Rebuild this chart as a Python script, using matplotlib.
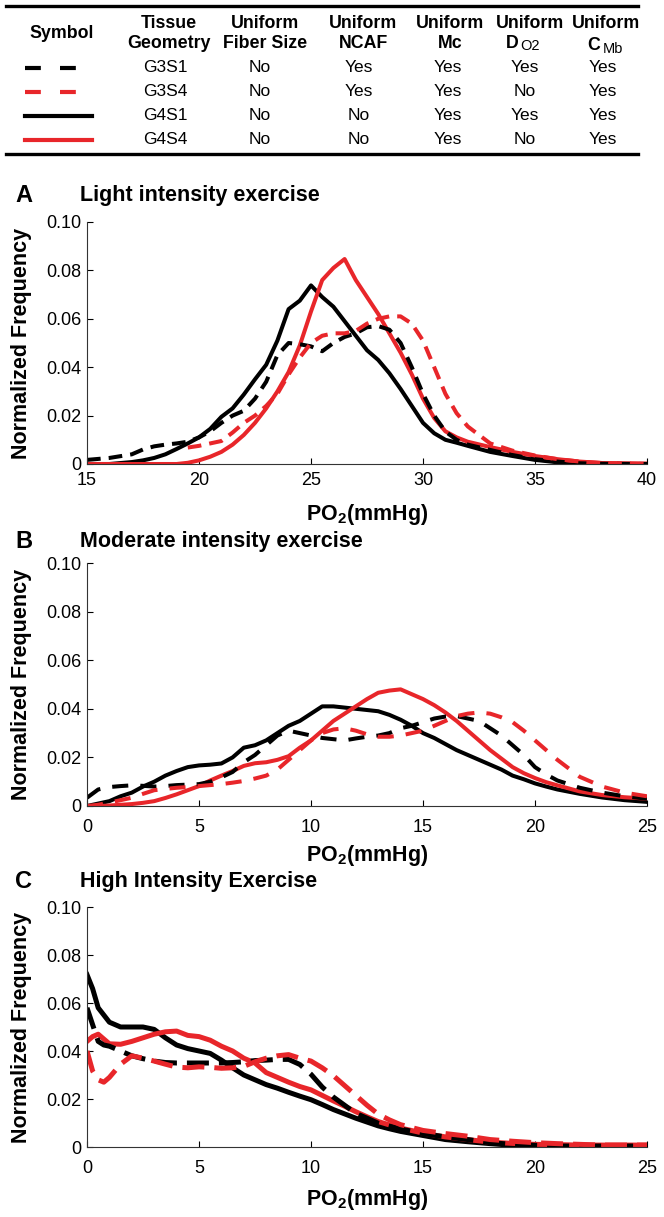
import numpy as np
import matplotlib
matplotlib.use('Agg')
import matplotlib.pyplot as plt
from matplotlib.lines import Line2D

plt.rcParams['font.family'] = ['Liberation Sans', 'DejaVu Sans']
plt.rcParams['mathtext.fontset'] = 'custom'
plt.rcParams['mathtext.rm'] = 'Liberation Sans'
plt.rcParams['mathtext.bf'] = 'Liberation Sans:bold'

RED = '#e8262a'
nan = np.nan

# ---------------- table data ----------------
geometry = ['G3S1', 'G3S4', 'G4S1', 'G4S4']
fiber = ['No', 'No', 'No', 'No']
ncaf = ['Yes', 'Yes', 'No', 'No']
mc = ['Yes', 'Yes', 'Yes', 'Yes']
do2 = ['Yes', 'No', 'Yes', 'No']
cmb = ['Yes', 'Yes', 'Yes', 'Yes']

# ---------------- panel A: light intensity ----------------
xA = [15, 16, 17, 17.5, 18, 18.5, 19, 19.5, 20, 20.5, 21, 21.5, 22, 22.5, 23, 23.5,
      24, 24.5, 25, 25.5, 26, 26.5, 27, 27.5, 28, 28.5, 29, 29.5, 30, 30.5, 31, 31.5,
      32, 33, 34, 35, 36, 37, 38, 40]
A_g3s1 = [0.0017, 0.0025, 0.004, 0.006, 0.0073, 0.008, 0.0085, 0.0092, 0.011, 0.0135,
          0.017, 0.020, 0.022, 0.027, 0.034, 0.045, 0.050, 0.0495, 0.0486, 0.0466,
          0.050, 0.0525, 0.054, 0.0565, 0.057, 0.0555, 0.050, 0.040, 0.029, 0.020,
          0.0134, 0.010, 0.008, 0.0058, 0.0037, 0.002, 0.001, 0.0003, 0.0001, 0.0]
A_g3s4 = [nan, nan, nan, nan, nan, nan, nan, 0.0068, 0.0075, 0.0085,
          0.0095, 0.013, 0.017, 0.020, 0.024, 0.029, 0.037, 0.044, 0.050, 0.053,
          0.054, 0.054, 0.055, 0.058, 0.060, 0.061, 0.061, 0.058, 0.051, 0.040,
          0.029, 0.021, 0.0155, 0.0085, 0.0055, 0.0035, 0.002, 0.001, 0.0004, 0.0]
A_g4s1 = [0.0, 0.0, 0.0008, 0.0015, 0.0025, 0.004, 0.0062, 0.0085, 0.011, 0.0145,
          0.0195, 0.023, 0.0287, 0.035, 0.041, 0.051, 0.064, 0.0675, 0.0738, 0.069,
          0.065, 0.059, 0.053, 0.047, 0.043, 0.0375, 0.031, 0.024, 0.017, 0.0127,
          0.010, 0.0088, 0.0075, 0.005, 0.0033, 0.0017, 0.0007, 0.0, 0.0, 0.0]
A_g4s4 = [0.0, 0.0, 0.0, 0.0, 0.0, 0.0, 0.0, 0.0005, 0.0015, 0.003,
          0.005, 0.008, 0.012, 0.017, 0.023, 0.030, 0.038, 0.049, 0.063, 0.076,
          0.081, 0.0847, 0.076, 0.069, 0.062, 0.054, 0.046, 0.037, 0.027, 0.019,
          0.0135, 0.011, 0.0092, 0.007, 0.005, 0.0033, 0.002, 0.001, 0.0004, 0.0002]

# ---------------- panel B: moderate intensity ----------------
xB = [0, 0.5, 1, 1.5, 2, 2.5, 3, 3.5, 4, 4.5, 5, 5.5, 6, 6.5, 7, 7.5, 8, 8.5, 9, 9.5,
      10, 10.5, 11, 11.5, 12, 12.5, 13, 13.5, 14, 14.5, 15, 15.5, 16, 16.5, 17, 17.5,
      18, 18.5, 19, 19.5, 20, 20.5, 21, 22, 23, 24, 25]
B_g3s1 = [0.0034, 0.0068, 0.0078, 0.0082, 0.0085, 0.0083, 0.008, 0.0082, 0.0086, 0.0088,
          0.009, 0.010, 0.0118, 0.014, 0.018, 0.021, 0.025, 0.029, 0.031, 0.030,
          0.029, 0.028, 0.0275, 0.027, 0.0278, 0.0285, 0.029, 0.030, 0.032, 0.033,
          0.0345, 0.036, 0.0368, 0.037, 0.036, 0.035, 0.032, 0.029, 0.025, 0.021,
          0.016, 0.013, 0.0105, 0.0075, 0.0055, 0.004, 0.003]
B_g3s4 = [0.0, 0.0005, 0.0014, 0.0024, 0.0034, 0.005, 0.0065, 0.007, 0.0075, 0.0078,
          0.0082, 0.0086, 0.009, 0.0096, 0.0103, 0.0113, 0.0125, 0.015, 0.019, 0.023,
          0.027, 0.030, 0.0315, 0.032, 0.031, 0.0295, 0.0285, 0.0285, 0.029, 0.030,
          0.031, 0.033, 0.035, 0.037, 0.038, 0.0385, 0.038, 0.0365, 0.0345, 0.031,
          0.027, 0.023, 0.019, 0.012, 0.008, 0.0055, 0.004]
B_g4s1 = [0.0, 0.001, 0.002, 0.004, 0.0055, 0.008, 0.010, 0.0125, 0.0144, 0.016,
          0.0167, 0.017, 0.0175, 0.020, 0.024, 0.025, 0.027, 0.030, 0.033, 0.035,
          0.038, 0.041, 0.041, 0.0405, 0.040, 0.0395, 0.039, 0.0375, 0.0355, 0.033,
          0.030, 0.028, 0.0255, 0.023, 0.021, 0.019, 0.017, 0.015, 0.0125, 0.011,
          0.0093, 0.008, 0.0068, 0.005, 0.0035, 0.0024, 0.0017]
B_g4s4 = [0.0, 0.0, 0.0002, 0.0005, 0.0008, 0.0013, 0.002, 0.0033, 0.0048, 0.0065,
          0.0082, 0.0105, 0.0125, 0.0144, 0.0165, 0.0176, 0.018, 0.019, 0.0205, 0.024,
          0.027, 0.031, 0.035, 0.038, 0.041, 0.044, 0.0466, 0.0475, 0.048, 0.046,
          0.044, 0.0415, 0.0385, 0.035, 0.031, 0.027, 0.023, 0.0195, 0.016, 0.0135,
          0.0115, 0.0098, 0.0085, 0.006, 0.0045, 0.0036, 0.003]

# ---------------- panel C: high intensity ----------------
xC = [0, 0.25, 0.5, 0.75, 1, 1.5, 2, 2.5, 3, 3.5, 4, 4.5, 5, 5.5, 6, 6.5, 7, 7.5, 8,
      8.5, 9, 9.5, 10, 10.5, 11, 11.5, 12, 12.5, 13, 13.5, 14, 15, 16, 17, 18, 19,
      20, 21, 22, 23, 24, 25]
C_g3s1 = [0.058, 0.051, 0.044, 0.0425, 0.042, 0.040, 0.038, 0.0368, 0.0358, 0.0352,
          0.035, 0.035, 0.035, 0.035, 0.035, 0.0352, 0.0355, 0.036, 0.0362, 0.0365,
          0.0365, 0.0344, 0.0303, 0.025, 0.0208, 0.0174, 0.014, 0.012, 0.0099, 0.0087,
          0.0075, 0.0056, 0.0042, 0.0031, 0.0018, 0.0011, 0.0007, 0.0004, 0.0004, 0.0004,
          0.0004, 0.0004]
C_g3s4 = [0.040, 0.0317, 0.028, 0.027, 0.029, 0.0345, 0.038, 0.037, 0.0358, 0.0345,
          0.0333, 0.033, 0.0334, 0.0332, 0.0328, 0.033, 0.0336, 0.0355, 0.037, 0.038,
          0.0385, 0.037, 0.0358, 0.033, 0.0297, 0.0256, 0.0215, 0.0174, 0.0137, 0.0113,
          0.0093, 0.0069, 0.0056, 0.0045, 0.0031, 0.0024, 0.0018, 0.0014, 0.0011, 0.0008,
          0.0008, 0.0008]
C_g4s1 = [0.0718, 0.066, 0.058, 0.055, 0.052, 0.050, 0.050, 0.050, 0.049, 0.0455,
          0.0425, 0.041, 0.040, 0.039, 0.0362, 0.033, 0.030, 0.028, 0.026, 0.0245,
          0.0228, 0.0212, 0.0197, 0.0177, 0.0156, 0.0138, 0.012, 0.0104, 0.0088, 0.0076,
          0.0065, 0.0048, 0.0031, 0.0022, 0.0014, 0.0007, 0.0004, 0.0001, 0.0001, 0.0001,
          0.0001, 0.0001]
C_g4s4 = [0.044, 0.046, 0.047, 0.045, 0.043, 0.0428, 0.044, 0.0455, 0.047, 0.048,
          0.0483, 0.0465, 0.046, 0.0445, 0.042, 0.040, 0.037, 0.035, 0.031, 0.029,
          0.027, 0.0252, 0.0238, 0.0215, 0.0192, 0.017, 0.0147, 0.0126, 0.0106, 0.0092,
          0.0079, 0.0058, 0.0042, 0.0031, 0.002, 0.0015, 0.0011, 0.001, 0.0008, 0.0008,
          0.0008, 0.0008]

panels = [
    ('A', 'Light intensity exercise', xA, [A_g3s1, A_g3s4, A_g4s1, A_g4s4], (15, 40), [15, 20, 25, 30, 35, 40]),
    ('B', 'Moderate intensity exercise', xB, [B_g3s1, B_g3s4, B_g4s1, B_g4s4], (0, 25), [0, 5, 10, 15, 20, 25]),
    ('C', 'High Intensity Exercise', xC, [C_g3s1, C_g3s4, C_g4s1, C_g4s4], (0, 25), [0, 5, 10, 15, 20, 25]),
]

W, H = 664, 1217
fig = plt.figure(figsize=(W / 100, H / 100), dpi=100)


def px(x, y):
    return x / W, 1 - y / H


# ---------------- table ----------------
for yy in (6, 154):
    fig.add_artist(Line2D([6 / W, 638 / W], [1 - yy / H] * 2, color='black', lw=2.4))

hb = dict(fontsize=12.8, fontweight='bold', ha='center', va='center')
fig.text(*px(62, 33), 'Symbol', **hb)
fig.text(*px(169, 23), 'Tissue', **hb)
fig.text(*px(169, 43), 'Geometry', **hb)
fig.text(*px(265, 23), 'Uniform', **hb)
fig.text(*px(265, 43), 'Fiber Size', **hb)
fig.text(*px(363, 23), 'Uniform', **hb)
fig.text(*px(363, 43), 'NCAF', **hb)
fig.text(*px(450, 23), 'Uniform', **hb)
fig.text(*px(450, 43), 'Mc', **hb)
fig.text(*px(530, 23), 'Uniform', **hb)
fig.text(*px(512, 44), 'D', **hb)
fig.text(*px(530, 46), 'O2', fontsize=10.5, ha='center', va='center')
fig.text(*px(606, 23), 'Uniform', **hb)
fig.text(*px(594, 45), 'C', **hb)
fig.text(*px(613, 49), 'Mb', fontsize=10.5, ha='center', va='center')

row_y = [68, 92, 116, 140]
styles = [('black', (3.8, 4.6)), (RED, (3.8, 4.6)), ('black', None), (RED, None)]
cols = [(165, geometry), (260, fiber), (359, ncaf), (448, mc), (525, do2), (603, cmb)]
for i, yy in enumerate(row_y):
    color, dash = styles[i]
    ln = Line2D([25 / W, 92 / W], [1 - yy / H] * 2, color=color, lw=3.0)
    if dash:
        ln.set_dashes(dash)
        ln.set_dash_capstyle('butt')
    fig.add_artist(ln)
    for cx, vals in cols:
        fig.text(*px(cx, yy), vals[i], fontsize=12.5, ha='center', va='center')

# ---------------- plots ----------------
ax_px = [(222, 464), (563, 806), (907, 1147)]
xlab_top = [502, 843, 1187]
tick_pad = [6, 9.5, 9.5]
title_y = [196, 542, 882]
lws = [2.9, 2.9, 3.6]
dash_pat = [(3.4, 2.0), (4.0, 3.0), (4.4, 2.0)]
for i, (letter, title, xs, ys, xlim, xticks) in enumerate(panels):
    top, bot = ax_px[i]
    ax = fig.add_axes([87 / W, 1 - bot / H, 560 / W, (bot - top) / H])
    g3s1, g3s4, g4s1, g4s4 = ys
    lw = lws[i]
    ax.plot(xs, g4s1, color='black', lw=lw, solid_joinstyle='round')
    ax.plot(xs, g4s4, color=RED, lw=lw, solid_joinstyle='round')
    ax.plot(xs, g3s1, color='black', lw=lw, dashes=dash_pat[i])
    ax.plot(xs, g3s4, color=RED, lw=lw, dashes=dash_pat[i])
    ax.set_xlim(*xlim)
    ax.set_ylim(0, 0.1)
    ax.set_xticks(xticks)
    ax.set_yticks([0, 0.02, 0.04, 0.06, 0.08, 0.10])
    ax.set_yticklabels(['0', '0.02', '0.04', '0.06', '0.08', '0.10'])
    for s in ('top', 'right'):
        ax.spines[s].set_visible(False)
    for s in ('left', 'bottom'):
        ax.spines[s].set_linewidth(0.8)
        ax.spines[s].set_color('#333333')
    ax.tick_params(direction='in', length=4, width=0.8, labelsize=13)
    ax.tick_params(axis='x', pad=tick_pad[i])
    ax.tick_params(axis='y', pad=4)
    ax.set_ylabel('Normalized Frequency', fontsize=15.5, fontweight='bold')
    ax.yaxis.set_label_coords((32 - 87) / 560, 0.5)
    ax.set_xlabel(r'PO$\mathregular{_2}$(mmHg)', fontsize=15.5, fontweight='bold')
    ax.xaxis.set_label_coords(0.5, -(xlab_top[i] - bot) / (bot - top))
    fig.text(*px(24, title_y[i]), letter, fontsize=17, fontweight='bold', ha='center', va='center')
    fig.text(*px(80, title_y[i]), title, fontsize=15.5, fontweight='bold', ha='left', va='center')

fig.savefig('out.png', dpi=100)
